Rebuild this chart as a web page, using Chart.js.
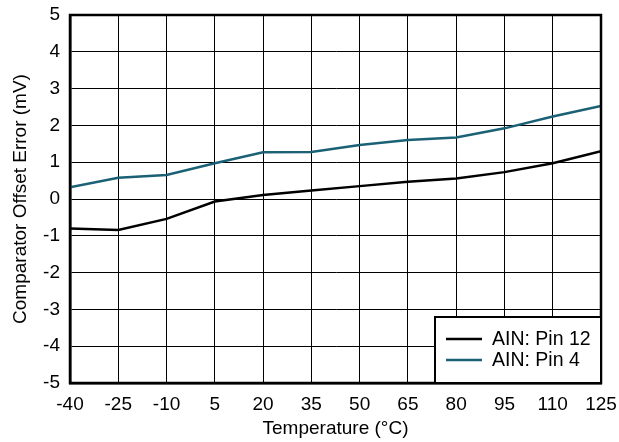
<!DOCTYPE html>
<html>
<head>
<meta charset="utf-8">
<script src="https://cdn.jsdelivr.net/npm/chart.js@4.4.1/dist/chart.umd.min.js"></script>
<style>
  html,body{margin:0;padding:0;background:#fff;}
  #wrap{width:619px;height:442px;position:relative;}
</style>
</head>
<body>
<div id="wrap"><canvas id="c"></canvas></div>
<script>
// temperature (°C) and offset error (mV)
const temps = [-40, -25, -10, 5, 20, 35, 50, 65, 80, 95, 110, 125];
const pin12 = [-0.80, -0.84, -0.54, -0.07, 0.11, 0.23, 0.35, 0.47, 0.56, 0.73, 0.97, 1.30];
const pin4  = [0.32, 0.58, 0.65, 0.97, 1.27, 1.28, 1.47, 1.60, 1.67, 1.92, 2.24, 2.53];
const seriesLabels = ['AIN: Pin 12', 'AIN: Pin 4'];
const seriesColors = ['#000000', '#1b6175'];

const font = {family: '"Liberation Sans", Arial, sans-serif', size: 19};

// frame + in-plot legend box (bottom right)
const framePlugin = {
  id: 'frame',
  afterDatasetsDraw(chart) {
    const {ctx, chartArea: a} = chart;
    ctx.save();
    ctx.strokeStyle = '#000';
    ctx.lineWidth = 2.5;
    ctx.strokeRect(a.left, a.top, a.right - a.left, a.bottom - a.top);

    const bw = 166, bh = 66;
    const bx = a.right - bw, by = a.bottom - bh;
    ctx.fillStyle = '#fff';
    ctx.fillRect(bx, by, bw, bh);
    ctx.lineWidth = 2;
    ctx.strokeRect(bx, by, bw, bh);
    ctx.font = `19.5px ${font.family}`;
    ctx.textBaseline = 'middle';
    chart.data.datasets.forEach((ds, i) => {
      const y = by + 22 + i * 21;
      ctx.strokeStyle = ds.borderColor;
      ctx.lineWidth = 2.5;
      ctx.beginPath();
      ctx.moveTo(bx + 11, y);
      ctx.lineTo(bx + 47, y);
      ctx.stroke();
      ctx.fillStyle = '#000';
      ctx.fillText(ds.label, bx + 57, y + 1);
    });
    ctx.restore();
  }
};

new Chart(document.getElementById('c'), {
  type: 'line',
  data: {
    datasets: [
      {label: seriesLabels[0], data: temps.map((t, i) => ({x: t, y: pin12[i]})), borderColor: seriesColors[0], borderWidth: 2.5, pointRadius: 0, tension: 0, fill: false},
      {label: seriesLabels[1], data: temps.map((t, i) => ({x: t, y: pin4[i]})), borderColor: seriesColors[1], borderWidth: 2.5, pointRadius: 0, tension: 0, fill: false}
    ]
  },
  options: {
    responsive: true,
    maintainAspectRatio: false,
    animation: false,
    layout: {padding: {top: 15, right: 18, bottom: 2, left: 9}},
    plugins: {legend: {display: false}, tooltip: {enabled: false}},
    scales: {
      x: {
        type: 'linear', min: -40, max: 125,
        ticks: {stepSize: 15, color: '#000', font, padding: 10, maxRotation: 0},
        grid: {color: '#000', lineWidth: 1, drawTicks: false},
        border: {color: '#000', width: 2.5},
        title: {display: true, text: 'Temperature (°C)', color: '#000', font, padding: {top: 0, bottom: 0}},
        afterFit(s) { s.height = 57; s.paddingLeft = 0; s.paddingRight = 0; }
      },
      y: {
        min: -5, max: 5,
        ticks: {stepSize: 1, color: '#000', font, padding: 10},
        grid: {color: '#000', lineWidth: 1, drawTicks: false},
        border: {color: '#000', width: 2.5},
        title: {display: true, text: 'Comparator Offset Error (mV)', color: '#000', font, padding: {top: 0, bottom: 2}},
        afterFit(s) { s.width = 61; s.paddingTop = 0; s.paddingBottom = 0; }
      }
    }
  },
  plugins: [framePlugin]
});
</script>
</body>
</html>
